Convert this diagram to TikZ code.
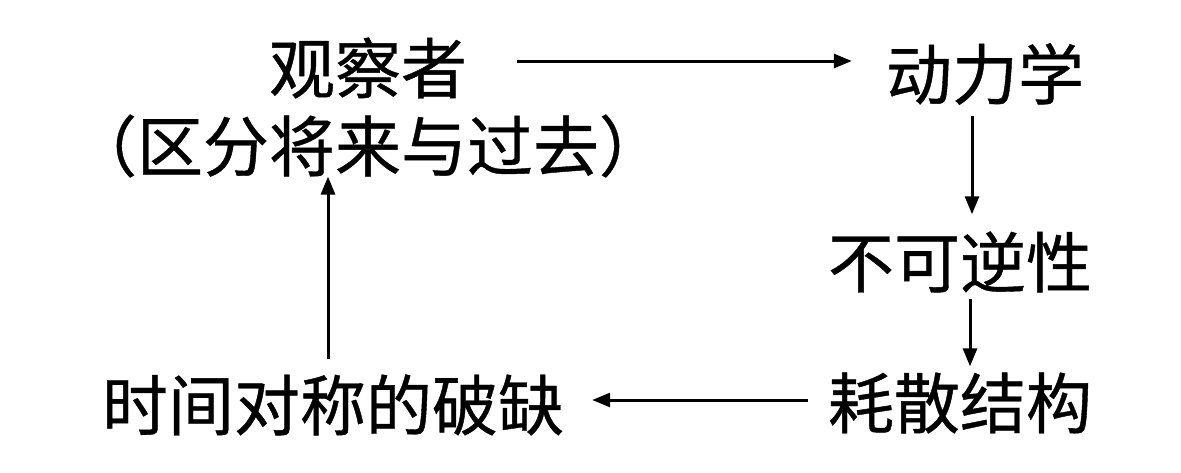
\documentclass[tikz,border=0pt]{standalone}
\usepackage{fontspec}
\newfontfamily\cjk[FakeBold=0.6]{Noto Sans CJK SC}
\usetikzlibrary{arrows.meta}
\begin{document}
\begin{tikzpicture}[x=1pt,y=-1pt,
  lbl/.style={inner sep=0pt,font=\cjk\fontsize{66pt}{76pt}\selectfont},
  arr/.style={line width=3pt,-{Triangle[length=18pt,width=14pt]}}]
\useasboundingbox[fill=white] (0,0) rectangle (1181,472);
\node[lbl] (obs1) at (368,68) {观察者};
\node[lbl] (obs2) at (368,146) {（区分将来与过去）};
\node[lbl] (dyn) at (985,74) {动力学};
\node[lbl] (irr) at (960,262) {不可逆性};
\node[lbl] (dis) at (960,403) {耗散结构};
\node[lbl] (brk) at (333,405) {时间对称的破缺};
\draw[arr] ([xshift=50pt,yshift=7pt]obs1.east) -- ([xshift=-34pt,yshift=13pt]dyn.west);
\draw[arr] ([xshift=-13pt,yshift=-11pt]dyn.south) -- ([xshift=12pt,yshift=17pt]irr.north);
\draw[arr] ([xshift=10pt,yshift=-6pt]irr.south) -- ([xshift=10pt,yshift=6pt]dis.north);
\draw[arr] ([xshift=-20pt,yshift=3pt]dis.west) -- ([xshift=28pt,yshift=5pt]brk.east);
\draw[arr] ([xshift=-5pt,yshift=15pt]brk.north) -- ([xshift=-40pt,yshift=1pt]obs2.south);
\end{tikzpicture}
\end{document}
